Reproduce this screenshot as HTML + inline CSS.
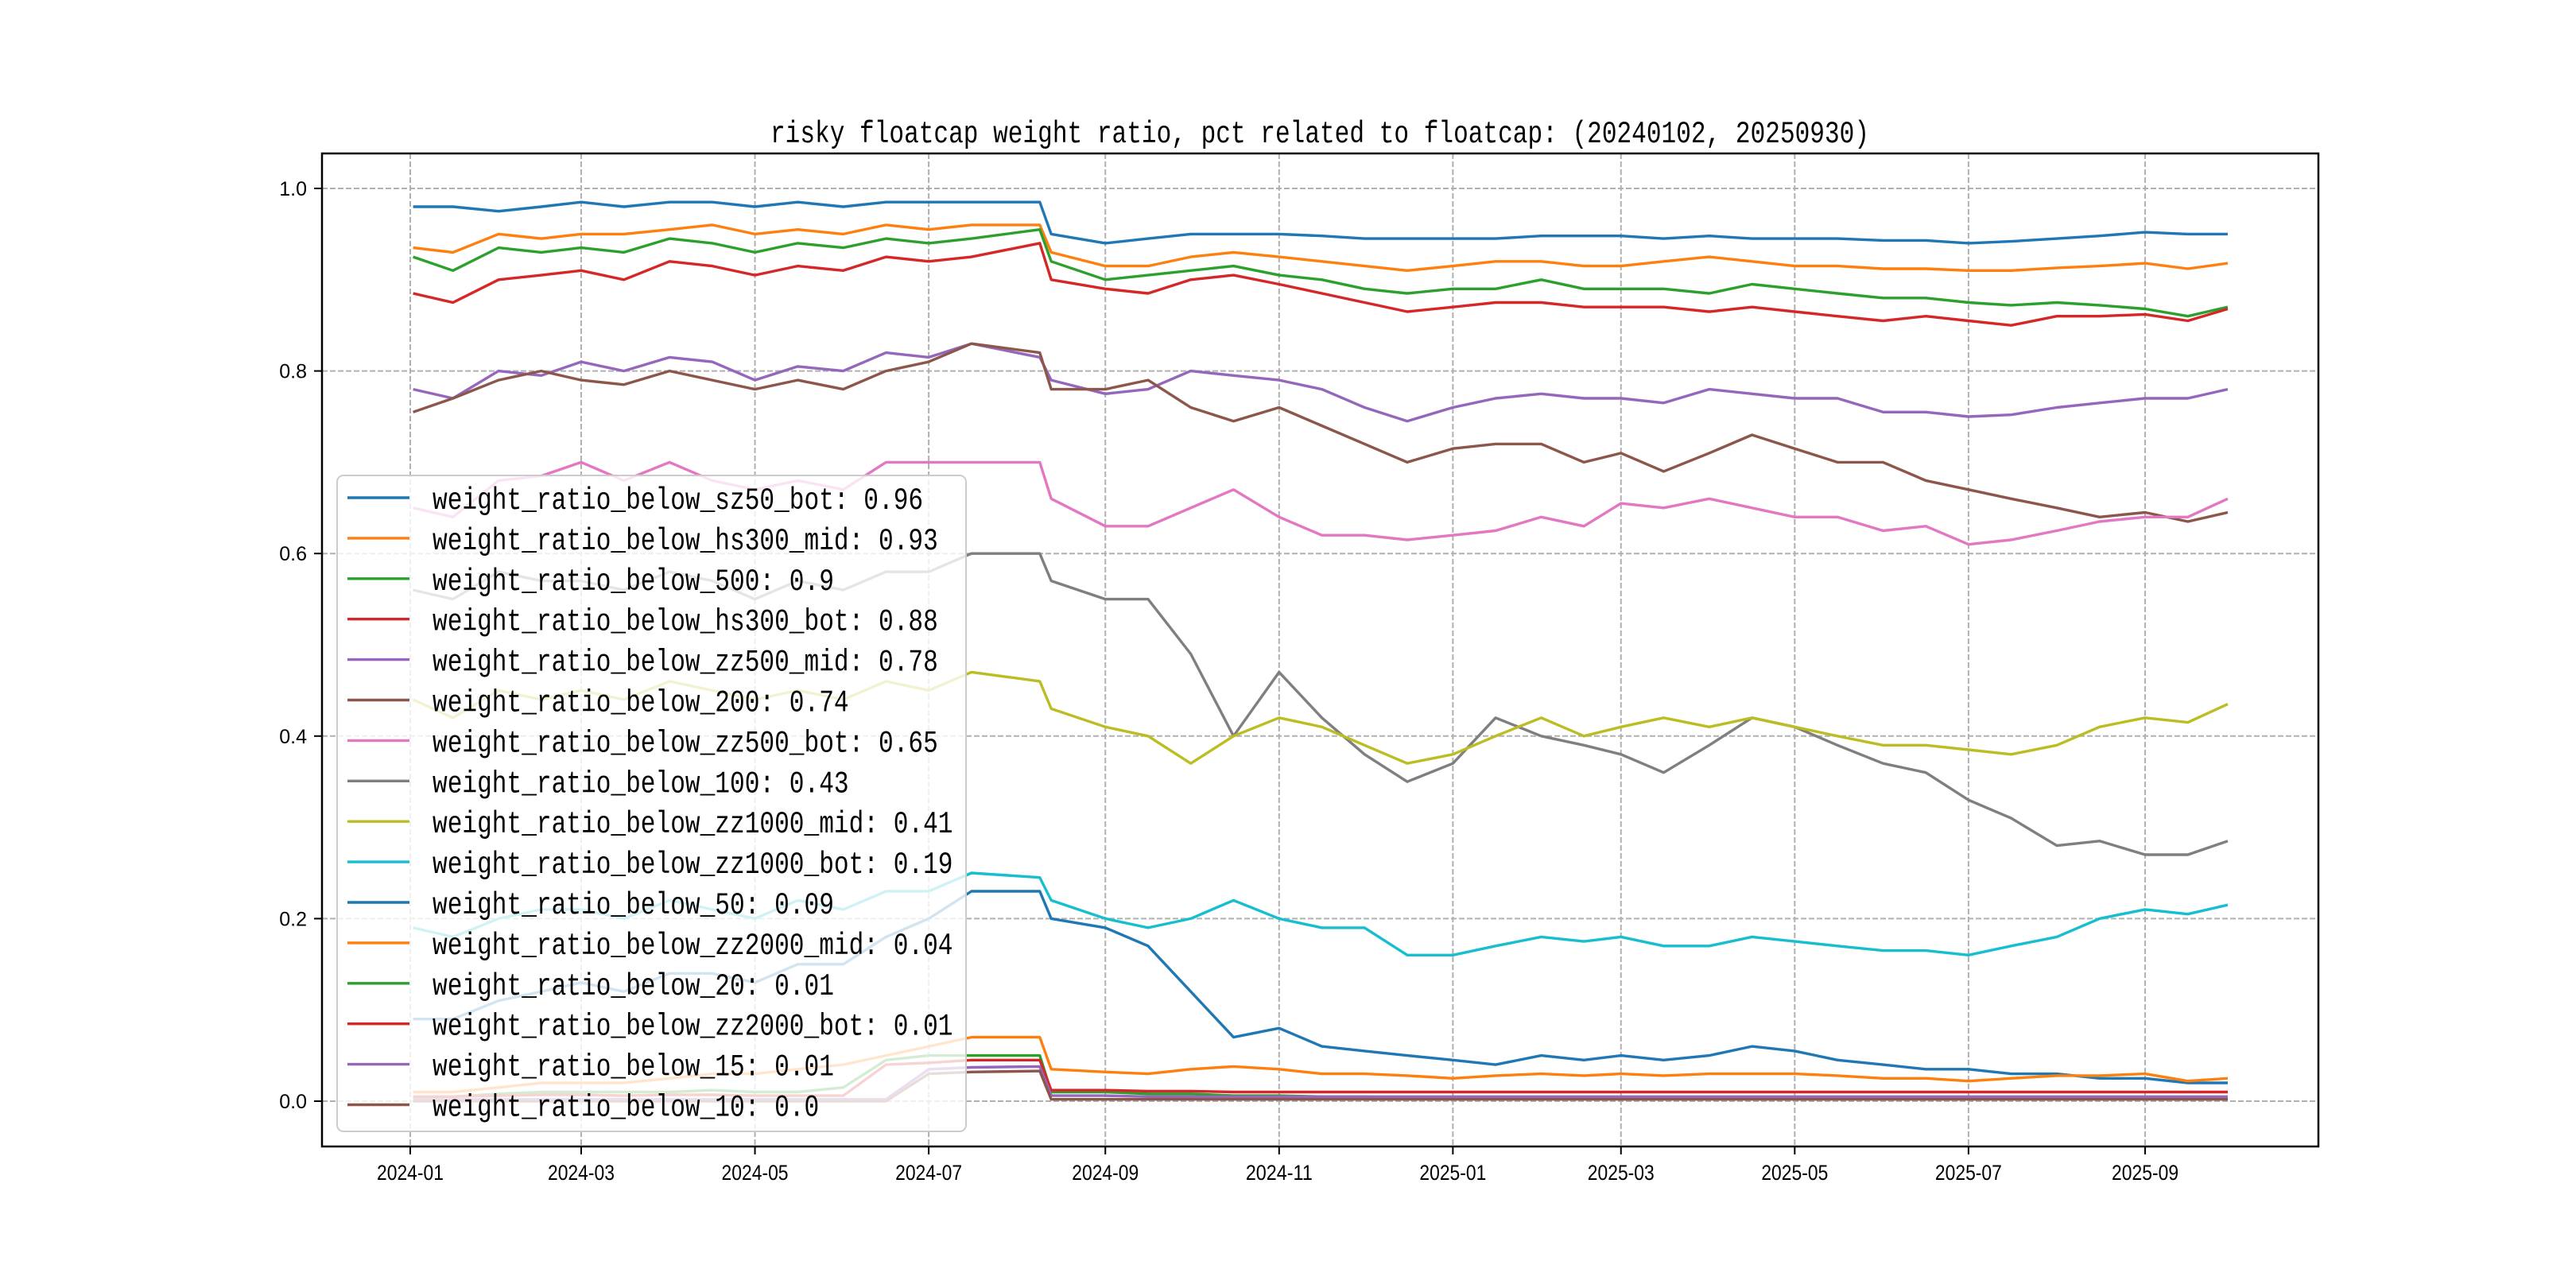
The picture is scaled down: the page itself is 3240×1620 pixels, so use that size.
<!DOCTYPE html>
<html><head><meta charset="utf-8"><style>
html,body{margin:0;padding:0;background:#fff;}
svg{display:block;}
</style></head><body>
<svg id="chart" xmlns="http://www.w3.org/2000/svg" width="3240" height="1620" viewBox="0 0 3240 1620">
<rect width="3240" height="1620" fill="#fff"/>
<text x="1660" y="179" text-anchor="middle" font-family="Liberation Mono, monospace" font-size="39" textLength="1382" lengthAdjust="spacingAndGlyphs">risky floatcap weight ratio, pct related to floatcap: (20240102, 20250930)</text>
<g id="grid"></g>
<g id="series"></g>
<rect x="405" y="193" width="2511" height="1249" fill="none" stroke="#000" stroke-width="2.5"/>
<g id="ticks"></g>
<g id="legend"></g>
</svg>
<script>
const dates = ["2024-01-02","2024-01-16","2024-02-01","2024-02-16","2024-03-01","2024-03-16","2024-04-01","2024-04-16","2024-05-01","2024-05-16","2024-06-01","2024-06-16","2024-07-01","2024-07-16","2024-08-09","2024-08-13","2024-09-01","2024-09-16","2024-10-01","2024-10-16","2024-11-01","2024-11-16","2024-12-01","2024-12-16","2025-01-01","2025-01-16","2025-02-01","2025-02-16","2025-03-01","2025-03-16","2025-04-01","2025-04-16","2025-05-01","2025-05-16","2025-06-01","2025-06-16","2025-07-01","2025-07-16","2025-08-01","2025-08-16","2025-09-01","2025-09-16","2025-09-30"];
const seriesNames = ["weight_ratio_below_sz50_bot","weight_ratio_below_hs300_mid","weight_ratio_below_500","weight_ratio_below_hs300_bot","weight_ratio_below_zz500_mid","weight_ratio_below_200","weight_ratio_below_zz500_bot","weight_ratio_below_100","weight_ratio_below_zz1000_mid","weight_ratio_below_zz1000_bot","weight_ratio_below_50","weight_ratio_below_zz2000_mid","weight_ratio_below_20","weight_ratio_below_zz2000_bot","weight_ratio_below_15","weight_ratio_below_10"];
const legendValues = ["0.96","0.93","0.9","0.88","0.78","0.74","0.65","0.43","0.41","0.19","0.09","0.04","0.01","0.01","0.01","0.0"];
const colors = ["#1f77b4","#ff7f0e","#2ca02c","#d62728","#9467bd","#8c564b","#e377c2","#7f7f7f","#bcbd22","#17becf","#1f77b4","#ff7f0e","#2ca02c","#d62728","#9467bd","#8c564b"];
const s_sz50_bot = [0.98,0.98,0.975,0.98,0.985,0.98,0.985,0.985,0.98,0.985,0.98,0.985,0.985,0.985,0.985,0.95,0.94,0.945,0.95,0.95,0.95,0.948,0.945,0.945,0.945,0.945,0.948,0.948,0.948,0.945,0.948,0.945,0.945,0.945,0.943,0.943,0.94,0.942,0.945,0.948,0.952,0.95,0.95];
const s_hs300_mid = [0.935,0.93,0.95,0.945,0.95,0.95,0.955,0.96,0.95,0.955,0.95,0.96,0.955,0.96,0.96,0.93,0.915,0.915,0.925,0.93,0.925,0.92,0.915,0.91,0.915,0.92,0.92,0.915,0.915,0.92,0.925,0.92,0.915,0.915,0.912,0.912,0.91,0.91,0.913,0.915,0.918,0.912,0.918];
const s_500 = [0.925,0.91,0.935,0.93,0.935,0.93,0.945,0.94,0.93,0.94,0.935,0.945,0.94,0.945,0.955,0.92,0.9,0.905,0.91,0.915,0.905,0.9,0.89,0.885,0.89,0.89,0.9,0.89,0.89,0.89,0.885,0.895,0.89,0.885,0.88,0.88,0.875,0.872,0.875,0.872,0.868,0.86,0.87];
const s_hs300_bot = [0.885,0.875,0.9,0.905,0.91,0.9,0.92,0.915,0.905,0.915,0.91,0.925,0.92,0.925,0.94,0.9,0.89,0.885,0.9,0.905,0.895,0.885,0.875,0.865,0.87,0.875,0.875,0.87,0.87,0.87,0.865,0.87,0.865,0.86,0.855,0.86,0.855,0.85,0.86,0.86,0.862,0.855,0.868];
const s_zz500_mid = [0.78,0.77,0.8,0.795,0.81,0.8,0.815,0.81,0.79,0.805,0.8,0.82,0.815,0.83,0.815,0.79,0.775,0.78,0.8,0.795,0.79,0.78,0.76,0.745,0.76,0.77,0.775,0.77,0.77,0.765,0.78,0.775,0.77,0.77,0.755,0.755,0.75,0.752,0.76,0.765,0.77,0.77,0.78];
const s_200 = [0.755,0.77,0.79,0.8,0.79,0.785,0.8,0.79,0.78,0.79,0.78,0.8,0.81,0.83,0.82,0.78,0.78,0.79,0.76,0.745,0.76,0.74,0.72,0.7,0.715,0.72,0.72,0.7,0.71,0.69,0.71,0.73,0.715,0.7,0.7,0.68,0.67,0.66,0.65,0.64,0.645,0.635,0.645];
const s_zz500_bot = [0.65,0.64,0.68,0.685,0.7,0.68,0.7,0.68,0.67,0.68,0.67,0.7,0.7,0.7,0.7,0.66,0.63,0.63,0.65,0.67,0.64,0.62,0.62,0.615,0.62,0.625,0.64,0.63,0.655,0.65,0.66,0.65,0.64,0.64,0.625,0.63,0.61,0.615,0.625,0.635,0.64,0.64,0.66];
const s_100 = [0.56,0.55,0.58,0.57,0.57,0.56,0.58,0.57,0.55,0.57,0.56,0.58,0.58,0.6,0.6,0.57,0.55,0.55,0.49,0.4,0.47,0.42,0.38,0.35,0.37,0.42,0.4,0.39,0.38,0.36,0.39,0.42,0.41,0.39,0.37,0.36,0.33,0.31,0.28,0.285,0.27,0.27,0.285];
const s_zz1000_mid = [0.44,0.42,0.45,0.44,0.45,0.44,0.46,0.45,0.44,0.45,0.44,0.46,0.45,0.47,0.46,0.43,0.41,0.4,0.37,0.4,0.42,0.41,0.39,0.37,0.38,0.4,0.42,0.4,0.41,0.42,0.41,0.42,0.41,0.4,0.39,0.39,0.385,0.38,0.39,0.41,0.42,0.415,0.435];
const s_zz1000_bot = [0.19,0.18,0.2,0.21,0.21,0.2,0.22,0.21,0.2,0.22,0.21,0.23,0.23,0.25,0.245,0.22,0.2,0.19,0.2,0.22,0.2,0.19,0.19,0.16,0.16,0.17,0.18,0.175,0.18,0.17,0.17,0.18,0.175,0.17,0.165,0.165,0.16,0.17,0.18,0.2,0.21,0.205,0.215];
const s_50 = [0.09,0.09,0.11,0.12,0.13,0.12,0.14,0.14,0.13,0.15,0.15,0.18,0.2,0.23,0.23,0.2,0.19,0.17,0.12,0.07,0.08,0.06,0.055,0.05,0.045,0.04,0.05,0.045,0.05,0.045,0.05,0.06,0.055,0.045,0.04,0.035,0.035,0.03,0.03,0.025,0.025,0.02,0.02];
const s_zz2000_mid = [0.01,0.01,0.015,0.02,0.02,0.02,0.025,0.03,0.03,0.035,0.04,0.05,0.06,0.07,0.07,0.035,0.032,0.03,0.035,0.038,0.035,0.03,0.03,0.028,0.025,0.028,0.03,0.028,0.03,0.028,0.03,0.03,0.03,0.028,0.025,0.025,0.022,0.025,0.028,0.028,0.03,0.022,0.025];
const s_20 = [0.005,0.005,0.008,0.01,0.01,0.01,0.01,0.012,0.01,0.01,0.015,0.045,0.05,0.05,0.05,0.01,0.01,0.008,0.008,0.006,0.006,0.005,0.005,0.004,0.004,0.004,0.004,0.004,0.004,0.004,0.004,0.004,0.004,0.004,0.003,0.003,0.003,0.003,0.003,0.003,0.003,0.003,0.003];
const s_zz2000_bot = [0.005,0.005,0.006,0.007,0.007,0.006,0.007,0.007,0.006,0.006,0.006,0.04,0.042,0.045,0.045,0.012,0.012,0.011,0.011,0.01,0.01,0.01,0.01,0.01,0.01,0.01,0.01,0.01,0.01,0.01,0.01,0.01,0.01,0.01,0.01,0.01,0.01,0.01,0.01,0.01,0.01,0.01,0.01];
const s_15 = [0.002,0.002,0.002,0.002,0.002,0.002,0.002,0.002,0.002,0.002,0.002,0.002,0.035,0.037,0.038,0.006,0.006,0.005,0.005,0.005,0.005,0.005,0.005,0.005,0.005,0.005,0.005,0.005,0.005,0.005,0.005,0.005,0.005,0.005,0.005,0.005,0.005,0.005,0.005,0.005,0.005,0.005,0.005];
const s_10 = [0.0,0.0,0.0,0.0,0.0,0.0,0.0,0.0,0.0,0.0,0.0,0.0,0.03,0.032,0.033,0.002,0.002,0.002,0.002,0.002,0.002,0.002,0.002,0.002,0.002,0.002,0.002,0.002,0.002,0.002,0.002,0.002,0.002,0.002,0.002,0.002,0.002,0.002,0.002,0.002,0.002,0.002,0.002];
const xTickLabels = ["2024-01","2024-03","2024-05","2024-07","2024-09","2024-11","2025-01","2025-03","2025-05","2025-07","2025-09"];
const yTickValues = [0.0,0.2,0.4,0.6,0.8,1.0];
const yTickLabels = ["0.0","0.2","0.4","0.6","0.8","1.0"];

const allSeries = [s_sz50_bot,s_hs300_mid,s_500,s_hs300_bot,s_zz500_mid,s_200,s_zz500_bot,s_100,s_zz1000_mid,s_zz1000_bot,s_50,s_zz2000_mid,s_20,s_zz2000_bot,s_15,s_10];

const NS = "http://www.w3.org/2000/svg";
const X0 = Date.UTC(2024,0,1), PX_DAY = 3.583, XL = 516;
function xScale(dstr){ const p = dstr.split("-").map(Number); const t = Date.UTC(p[0],p[1]-1,p[2]||1); return XL + (t - X0)/86400000*PX_DAY; }
function yScale(v){ return 1385 - v*1148; }
function mk(tag, attrs, parent){ const e = document.createElementNS(NS, tag); for (const k in attrs) e.setAttribute(k, attrs[k]); parent.appendChild(e); return e; }

const grid = document.getElementById("grid");
const ticks = document.getElementById("ticks");
xTickLabels.forEach(lbl => {
  const x = xScale(lbl + "-01");
  const g = mk("line", {x1:x, x2:x, y1:193, y2:1442, stroke:"#b0b0b0", "stroke-width":2, "stroke-dasharray":"7,3"}, grid);
  
  
  const t = mk("line", {x1:x, x2:x, y1:1442, y2:1452, stroke:"#000", "stroke-width":2}, ticks);
  
  
  const tx = mk("text", {x:x, y:1484, "text-anchor":"middle", "font-family":"Liberation Sans Narrow, Liberation Sans, sans-serif", "font-size":27, textLength:84, lengthAdjust:"spacingAndGlyphs"}, ticks);
  tx.textContent = lbl;
  
  
});
yTickValues.forEach((v,i) => {
  const y = yScale(v);
  const g = mk("line", {x1:405, x2:2916, y1:y, y2:y, stroke:"#b0b0b0", "stroke-width":2, "stroke-dasharray":"7,3"}, grid);
  
  
  const t = mk("line", {x1:395, x2:405, y1:y, y2:y, stroke:"#000", "stroke-width":2}, ticks);
  
  
  const tx = mk("text", {x:386, y:y+9, "text-anchor":"end", "font-family":"Liberation Sans, sans-serif", "font-size":25}, ticks);
  tx.textContent = yTickLabels[i];
  
  
});

const sg = document.getElementById("series");
allSeries.forEach((arr, si) => {
  const pts = arr.map((v,i) => xScale(dates[i]).toFixed(1) + "," + yScale(v).toFixed(1)).join(" ");
  const pl = mk("polyline", {points:pts, fill:"none", stroke:colors[si], "stroke-width":3.4, "stroke-linejoin":"round"}, sg);
  
  
});

const lg = document.getElementById("legend");
const box = mk("rect", {x:424, y:598, width:791, height:825, rx:8, fill:"#fff", "fill-opacity":0.8, stroke:"#cccccc", "stroke-width":2}, lg);


seriesNames.forEach((n, i) => {
  const y = 626 + i*50.9;
  const ln = mk("line", {x1:437, x2:515, y1:y, y2:y, stroke:colors[i], "stroke-width":3.4}, lg);
  
  
  const label = n + ": " + legendValues[i];
  const tx = mk("text", {x:544, y:y+14, "font-family":"Liberation Mono, monospace", "font-size":39, textLength:(label.length*18.7).toFixed(1), lengthAdjust:"spacingAndGlyphs"}, lg);
  tx.textContent = label;
  
  
});
</script>
</body></html>
